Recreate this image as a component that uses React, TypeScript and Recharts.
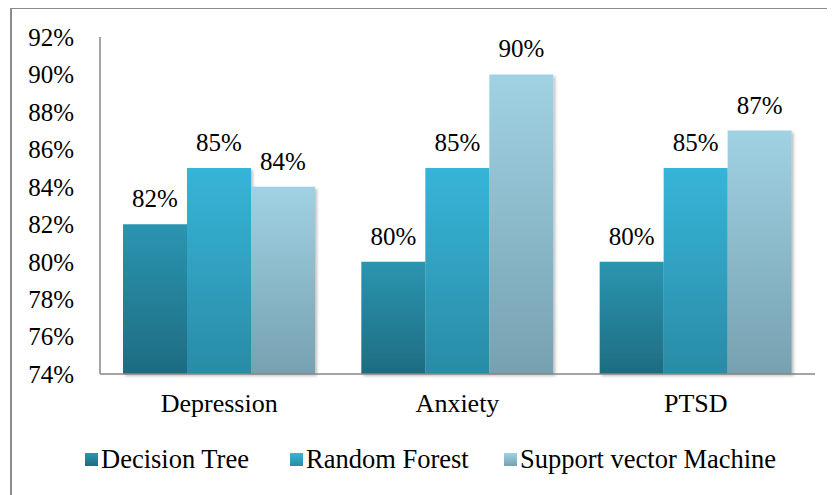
import React from 'react';
import { BarChart, Bar, XAxis, YAxis, Legend, LabelList } from 'recharts';

const categories = ['Depression', 'Anxiety', 'PTSD'];
const decisionTree = [82, 80, 80];
const randomForest = [85, 85, 85];
const svm = [84, 90, 87];
const yTicks = [74, 76, 78, 80, 82, 84, 86, 88, 90, 92];

const seriesNames = ['Decision Tree', 'Random Forest', 'Support vector Machine'];
const seriesKeys = ['dt', 'rf', 'svm'];
const gradients = [
  ['#2b95b1', '#1e6c81'],
  ['#36b5d9', '#2a8ba5'],
  ['#a0d2e3', '#76a1b1'],
];
const legendLefts = [85, 290, 504];

const data = categories.map((c, i) => ({
  name: c,
  dt: decisionTree[i],
  rf: randomForest[i],
  svm: svm[i],
}));

const FONT = "'Liberation Serif', 'Times New Roman', Times, serif";

const LegendContent = () => (
  <div style={{ position: 'relative', height: 30, fontFamily: FONT, fontSize: 26.5, color: '#000' }}>
    {seriesNames.map((n, i) => (
      <div
        key={n}
        style={{ position: 'absolute', left: legendLefts[i], top: 0, height: 30, display: 'flex', alignItems: 'center', whiteSpace: 'nowrap' }}
      >
        <span
          style={{
            display: 'inline-block',
            width: 13,
            height: 13,
            background: `linear-gradient(${gradients[i][0]}, ${gradients[i][1]})`,
            marginRight: 3,
          }}
        />
        <span>{n}</span>
      </div>
    ))}
  </div>
);

export default function App() {
  return (
    <div style={{ position: 'relative', width: 835, height: 495, margin: '-8px 0 0 -8px', overflow: 'hidden', background: '#fff', fontFamily: FONT }}>
      <div
        style={{
          position: 'absolute',
          left: 10,
          top: 7,
          width: 900,
          height: 600,
          borderLeft: '2px solid #8c8c8c',
          borderTop: '2px solid #8c8c8c',
        }}
      />
      <div style={{ position: 'absolute', left: 0, top: 0 }}>
        <BarChart
          width={835}
          height={495}
          data={data}
          margin={{ top: 37, right: 20, bottom: 71, left: 0 }}
          barCategoryGap={23}
          barGap={0}
          style={{ fontFamily: FONT }}
        >
          <defs>
            {gradients.map((g, i) => (
              <linearGradient key={i} id={`grad${i}`} x1="0" y1="0" x2="0" y2="1">
                <stop offset="0%" stopColor={g[0]} />
                <stop offset="100%" stopColor={g[1]} />
              </linearGradient>
            ))}
            <filter id="shadow" x="-10%" y="-10%" width="130%" height="130%">
              <feDropShadow dx="2" dy="2" stdDeviation="1.5" floodColor="#000" floodOpacity="0.25" />
            </filter>
          </defs>
          <XAxis
            dataKey="name"
            height={50}
            tickSize={0}
            tickMargin={20}
            axisLine={{ stroke: '#868686', strokeWidth: 1.5 }}
            tick={{ fill: '#000', fontSize: 26, fontFamily: FONT }}
          />
          <YAxis
            width={100}
            domain={[74, 92]}
            ticks={yTicks}
            interval={0}
            tickSize={0}
            tickMargin={26}
            axisLine={{ stroke: '#868686', strokeWidth: 1.5 }}
            tickFormatter={(v) => `${v}%`}
            tick={{ fill: '#000', fontSize: 25, fontFamily: FONT }}
          />
          <Legend
            verticalAlign="middle"
            align="center"
            layout="horizontal"
            wrapperStyle={{ top: 444, left: 0, width: 835 }}
            content={<LegendContent />}
          />
          {seriesKeys.map((k, i) => (
            <Bar key={k} dataKey={k} name={seriesNames[i]} fill={`url(#grad${i})`} isAnimationActive={false} filter="url(#shadow)">
              <LabelList
                dataKey={k}
                position="top"
                offset={17}
                formatter={(v: number) => `${v}%`}
                style={{ fill: '#000', fontSize: 25, fontFamily: FONT }}
              />
            </Bar>
          ))}
        </BarChart>
      </div>
    </div>
  );
}
